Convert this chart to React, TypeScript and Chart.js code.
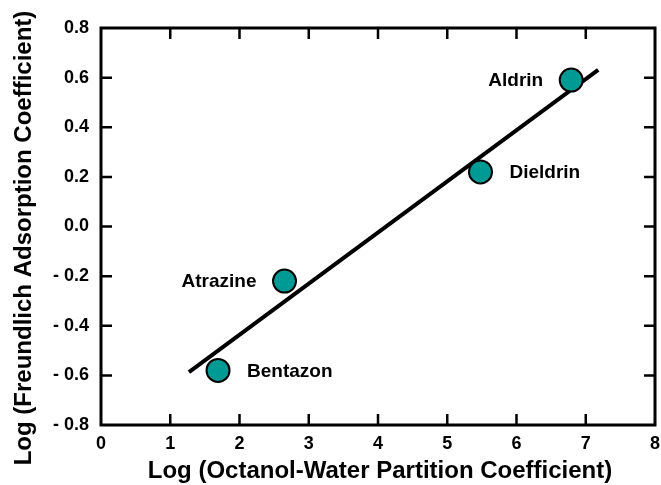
import React, { useEffect, useRef } from 'react';
import { Chart, registerables } from 'chart.js';

Chart.register(...registerables);

// ---- data ----
const compounds = ['Bentazon', 'Atrazine', 'Dieldrin', 'Aldrin'];
const logKow = [1.69, 2.65, 5.48, 6.79];
const logKf = [-0.58, -0.22, 0.22, 0.59];
const labelSide = ['right', 'left', 'right', 'left'];
const fitLogKow = [1.27, 7.18];
const fitLogKf = [-0.587, 0.631];
const xMin = 0;
const xMax = 8;
const yMin = -0.8;
const yMax = 0.8;
const xTitle = 'Log (Octanol-Water Partition Coefficient)';
const yTitle = 'Log (Freundlich Adsorption Coefficient)';

const FONT = "'Liberation Sans', Arial, Helvetica, sans-serif";
const TEAL = '#009a94';

Chart.defaults.font.family = FONT;
Chart.defaults.font.size = 18;
Chart.defaults.font.weight = 'bold';
Chart.defaults.color = '#000';

const framePlugin = {
  id: 'framePlugin',
  afterDatasetsDraw(chart: any) {
    const ctx = chart.ctx;
    const { left, right, top, bottom } = chart.chartArea;
    const xs = chart.scales.x;
    const ys = chart.scales.y;
    ctx.save();
    // frame
    ctx.strokeStyle = '#000';
    ctx.lineWidth = 3;
    ctx.strokeRect(left, top, right - left, bottom - top);
    // inward ticks
    ctx.lineWidth = 2.5;
    ctx.beginPath();
    xs.ticks.forEach((t: any) => {
      if (t.value <= xMin || t.value >= xMax) return;
      const px = xs.getPixelForValue(t.value);
      ctx.moveTo(px, bottom);
      ctx.lineTo(px, bottom - 11);
      ctx.moveTo(px, top);
      ctx.lineTo(px, top + 11);
    });
    ys.ticks.forEach((t: any) => {
      if (t.value <= yMin + 1e-9 || t.value >= yMax - 1e-9) return;
      const py = ys.getPixelForValue(t.value);
      ctx.moveTo(left, py);
      ctx.lineTo(left + 11, py);
      ctx.moveTo(right, py);
      ctx.lineTo(right - 11, py);
    });
    ctx.stroke();

    // point labels
    const meta = chart.getDatasetMeta(0);
    ctx.fillStyle = '#000';
    ctx.font = `bold 19px ${FONT}`;
    ctx.textBaseline = 'middle';
    meta.data.forEach((el: any, i: number) => {
      const side = labelSide[i];
      if (side === 'left') {
        ctx.textAlign = 'right';
        ctx.fillText(compounds[i], el.x - 28, el.y + 1);
      } else {
        ctx.textAlign = 'left';
        ctx.fillText(compounds[i], el.x + 29, el.y + 1);
      }
    });

    // axis titles
    ctx.font = `bold 24px ${FONT}`;
    ctx.textAlign = 'center';
    ctx.textBaseline = 'alphabetic';
    ctx.fillText(xTitle, 380, 478);
    ctx.save();
    ctx.translate(31, 238);
    ctx.rotate(-Math.PI / 2);
    ctx.fillText(yTitle, 0, 0);
    ctx.restore();
    ctx.restore();
  },
};

export default function App() {
  const ref = useRef<HTMLCanvasElement | null>(null);
  useEffect(() => {
    if (!ref.current) return;
    const chart = new Chart(ref.current, {
      type: 'scatter',
      data: {
        datasets: [
          {
            label: 'Compounds',
            data: logKow.map((x, i) => ({ x, y: logKf[i] })),
            backgroundColor: TEAL,
            borderColor: '#000',
            borderWidth: 2,
            pointRadius: 11.5,
            pointHoverRadius: 11.5,
            order: 0,
          },
          {
            label: 'Fit',
            type: 'line',
            data: fitLogKow.map((x, i) => ({ x, y: fitLogKf[i] })),
            borderColor: '#000',
            borderWidth: 4,
            borderCapStyle: 'butt',
            pointRadius: 0,
            fill: false,
            showLine: true,
            order: 1,
          } as any,
        ],
      },
      options: {
        animation: false,
        responsive: false,
        devicePixelRatio: 1,
        layout: { autoPadding: false, padding: { top: 28, right: 6, left: 0, bottom: 0 } },
        plugins: {
          legend: { display: false },
          tooltip: { enabled: false },
          title: { display: false },
        },
        scales: {
          x: {
            type: 'linear',
            min: xMin,
            max: xMax,
            ticks: {
              stepSize: 1,
              padding: 0,
              color: '#000',
              font: { size: 18, weight: 'bold', lineHeight: '39px' },
              callback: (v: any) => String(v),
            },
            grid: { display: false, drawTicks: false },
            border: { display: false },
            afterFit: (s: any) => {
              s.height = 60;
            },
          },
          y: {
            type: 'linear',
            min: yMin,
            max: yMax,
            ticks: {
              stepSize: 0.2,
              padding: 12,
              color: '#000',
              font: { size: 18, weight: 'bold' },
              callback: (v: any) => {
                const n = Math.round(Number(v) * 10) / 10;
                if (n < 0) return '- ' + Math.abs(n).toFixed(1);
                return Math.abs(n).toFixed(1);
              },
            },
            grid: { display: false, drawTicks: false },
            border: { display: false },
            afterFit: (s: any) => {
              s.width = 101;
            },
          },
        },
      } as any,
      plugins: [framePlugin],
    });
    return () => chart.destroy();
  }, []);
  return (
    <div style={{ position: 'absolute', left: 0, top: 0, width: 661, height: 485, background: '#fff' }}>
      <canvas ref={ref} width={661} height={485} />
    </div>
  );
}
